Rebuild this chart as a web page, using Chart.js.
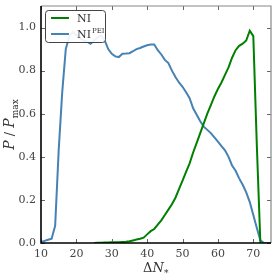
<!DOCTYPE html>
<html>
<head>
<meta charset="utf-8">
<script src="https://cdn.jsdelivr.net/npm/chart.js@4/dist/chart.umd.min.js"></script>
<style>
  html, body { margin: 0; padding: 0; background: #fff; }
  #wrap { width: 277px; height: 280px; }
</style>
</head>
<body>
<div id="wrap"><canvas id="chart" width="277" height="280"></canvas></div>
<script>
// Delta N values (one point per e-fold)
const deltaN = [
    10, 11, 12, 13, 14, 15, 16, 17, 18, 19,
    20, 21, 22, 23, 24, 25, 26, 27, 28, 29,
    30, 31, 32, 33, 34, 35, 36, 37, 38, 39,
    40, 41, 42, 43, 44, 45, 46, 47, 48, 49,
    50, 51, 52, 53, 54, 55, 56, 57, 58, 59,
    60, 61, 62, 63, 64, 65, 66, 67, 68, 69,
    70, 71, 72, 73, 74, 75
];

// NI (green), starts around 25
const niValues = [
    null, null, null, null, null, null, null, null, null, null,
    null, null, null, null, null, 0.0, 0.001, 0.001, 0.002, 0.002,
    0.003, 0.003, 0.004, 0.005, 0.006, 0.008, 0.012, 0.016, 0.02, 0.025,
    0.04, 0.055, 0.065, 0.085, 0.105, 0.13, 0.155, 0.18, 0.21, 0.25,
    0.29, 0.33, 0.37, 0.42, 0.465, 0.51, 0.555, 0.6, 0.64, 0.68,
    0.715, 0.745, 0.78, 0.815, 0.86, 0.895, 0.915, 0.925, 0.94, 0.985,
    0.96, 0.45, 0.0, null, null, null
];

// NI^PEI (blue)
const niPeiValues = [
    0.005, 0.01, 0.015, 0.02, 0.08, 0.43, 0.70, 0.90, 0.96, 0.98,
    0.965, 0.95, 0.94, 0.935, 0.925, 0.94, 0.955, 0.963, 0.94, 0.90,
    0.878, 0.866, 0.863, 0.878, 0.879, 0.881, 0.89, 0.90, 0.905, 0.912,
    0.918, 0.921, 0.921, 0.895, 0.875, 0.85, 0.835, 0.80, 0.77, 0.745,
    0.725, 0.70, 0.672, 0.625, 0.595, 0.565, 0.54, 0.525, 0.51, 0.49,
    0.47, 0.45, 0.43, 0.40, 0.36, 0.335, 0.30, 0.27, 0.235, 0.19,
    0.13, 0.07, 0.012, 0.0, 0.0, 0.0
];

const xTicks = [10, 20, 30, 40, 50, 60, 70];
const yTicks = [0.0, 0.2, 0.4, 0.6, 0.8, 1.0];

const serif = "'DejaVu Serif', 'Liberation Serif', serif";

function toPoints(values) {
    return deltaN.map((x, i) => ({ x: x, y: values[i] }));
}

// spines, inward ticks, legend and axis titles
const decorations = {
    id: "decorations",
    afterDraw(chart) {
        let ctx = chart.ctx;
        let a = chart.chartArea;
        let xs = chart.scales.x, ys = chart.scales.y;
        ctx.save();

        // inward ticks on all four sides
        ctx.strokeStyle = "#666";
        ctx.lineWidth = 1;
        xTicks.forEach(t => {
            let px = Math.round(xs.getPixelForValue(t)) + 0.5;
            ctx.beginPath();
            ctx.moveTo(px, a.bottom); ctx.lineTo(px, a.bottom - 4);
            ctx.moveTo(px, a.top); ctx.lineTo(px, a.top + 4);
            ctx.stroke();
        });
        yTicks.forEach(t => {
            let py = Math.round(ys.getPixelForValue(t)) + 0.5;
            ctx.beginPath();
            ctx.moveTo(a.left, py); ctx.lineTo(a.left + 4, py);
            ctx.moveTo(a.right, py); ctx.lineTo(a.right - 4, py);
            ctx.stroke();
        });

        // top and right spines grey, left and bottom black
        ctx.strokeStyle = "#888";
        ctx.lineWidth = 1.2;
        ctx.beginPath();
        ctx.moveTo(a.left, a.top); ctx.lineTo(a.right, a.top); ctx.lineTo(a.right, a.bottom);
        ctx.stroke();
        ctx.strokeStyle = "#000";
        ctx.lineWidth = 1.6;
        ctx.beginPath();
        ctx.moveTo(a.left, a.top); ctx.lineTo(a.left, a.bottom); ctx.lineTo(a.right, a.bottom);
        ctx.stroke();

        // legend
        let lx = 45, ly = 10, lw = 60, lh = 32;
        ctx.fillStyle = "rgba(255,255,255,0.9)";
        ctx.strokeStyle = "#444";
        ctx.lineWidth = 1;
        ctx.beginPath();
        ctx.roundRect(lx + 0.5, ly + 0.5, lw, lh, 3);
        ctx.fill();
        ctx.stroke();
        chart.data.datasets.forEach((ds, i) => {
            let y = ly + 8 + i * 16;
            ctx.strokeStyle = ds.borderColor;
            ctx.lineWidth = 2;
            ctx.beginPath();
            ctx.moveTo(lx + 6, y); ctx.lineTo(lx + 24, y);
            ctx.stroke();
            ctx.fillStyle = "#333";
            ctx.textBaseline = "middle";
            ctx.textAlign = "left";
            ctx.font = "11px " + serif;
            ctx.fillText(ds.label, lx + 32, y + 1);
            if (ds.sup) {
                let w = ctx.measureText(ds.label).width;
                ctx.font = "7px " + serif;
                ctx.fillText(ds.sup, lx + 32 + w + 1, y - 3);
            }
        });

        // x title: Delta N_*
        ctx.fillStyle = "#333";
        ctx.textBaseline = "alphabetic";
        ctx.textAlign = "left";
        let cx = (a.left + a.right) / 2;
        ctx.font = "13px " + serif;
        let wD = ctx.measureText("Δ").width;
        ctx.font = "italic 13px " + serif;
        let wN = ctx.measureText("N").width;
        let sx = cx - (wD + wN + 5) / 2;
        ctx.font = "13px " + serif;
        ctx.fillText("Δ", sx, 272);
        ctx.font = "italic 13px " + serif;
        ctx.fillText("N", sx + wD, 272);
        ctx.font = "9px " + serif;
        ctx.fillText("*", sx + wD + wN, 276);

        // y title: P / P_max (rotated)
        ctx.translate(0, (a.top + a.bottom) / 2);
        ctx.rotate(-Math.PI / 2);
        ctx.font = "italic 14px " + serif;
        let wP = ctx.measureText("P").width;
        ctx.font = "13px " + serif;
        let wS = ctx.measureText(" / ").width;
        ctx.font = "9px " + serif;
        let wM = ctx.measureText("max").width;
        let yx = -(wP * 2 + wS + wM) / 2;
        ctx.font = "italic 14px " + serif;
        ctx.fillText("P", yx, 14);
        ctx.font = "13px " + serif;
        ctx.fillText(" / ", yx + wP, 14);
        ctx.font = "italic 14px " + serif;
        ctx.fillText("P", yx + wP + wS, 14);
        ctx.font = "9px " + serif;
        ctx.fillText("max", yx + wP * 2 + wS, 18);

        ctx.restore();
    }
};

new Chart(document.getElementById("chart"), {
    type: "line",
    data: {
        datasets: [
            {
                label: "NI",
                data: toPoints(niValues),
                borderColor: "#008000",
                borderWidth: 2,
                pointRadius: 0,
                tension: 0,
                spanGaps: false
            },
            {
                label: "NI",
                sup: "PEI",
                data: toPoints(niPeiValues),
                borderColor: "#4682b4",
                borderWidth: 2,
                pointRadius: 0,
                tension: 0
            }
        ]
    },
    options: {
        responsive: false,
        animation: false,
        layout: { padding: { top: 6, right: 6, left: 0, bottom: 0 } },
        plugins: {
            legend: { display: false },
            tooltip: { enabled: false }
        },
        scales: {
            x: {
                type: "linear",
                min: 10,
                max: 75,
                afterBuildTicks: scale => { scale.ticks = xTicks.map(v => ({ value: v })); },
                afterFit: scale => { scale.height = 37; },
                grid: { display: false, drawTicks: false },
                border: { display: false },
                ticks: {
                    padding: 5,
                    color: "#444",
                    font: { family: serif, size: 11 },
                    maxRotation: 0,
                    callback: v => String(v)
                }
            },
            y: {
                min: 0,
                max: 1.1,
                afterBuildTicks: scale => { scale.ticks = yTicks.map(v => ({ value: v })); },
                afterFit: scale => {
                    scale.width = 41;
                    scale.paddingTop = 0;
                    scale.paddingBottom = 0;
                },
                grid: { display: false, drawTicks: false },
                border: { display: false },
                ticks: {
                    padding: 5,
                    color: "#444",
                    font: { family: serif, size: 11 },
                    callback: v => v.toFixed(1)
                }
            }
        }
    },
    plugins: [decorations]
});
</script>
</body>
</html>
